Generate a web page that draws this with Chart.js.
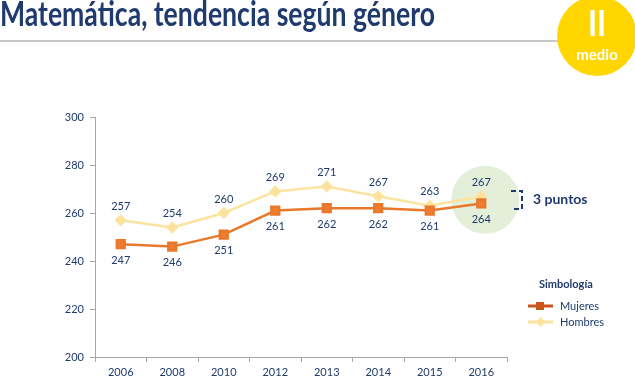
<!DOCTYPE html>
<html><head><meta charset="utf-8">
<script src="https://cdn.jsdelivr.net/npm/chart.js@4.4.1/dist/chart.umd.min.js"></script>
<style>
html,body{margin:0;padding:0;background:#fff;width:635px;height:384px;overflow:hidden;font-family:Lato,"Open Sans",sans-serif;}
#wrap{position:relative;width:635px;height:384px;}
#c{position:absolute;left:0;top:0;}
.abs{position:absolute;white-space:nowrap;}
</style></head><body>
<div id="wrap">
<canvas id="c" width="635" height="384"></canvas>
<div class="abs" id="title" style="left:0;top:-9px;font-size:35px;font-weight:bold;color:#1F3A6C;transform:scaleX(0.76);transform-origin:0 0;">Matemática, tendencia según género</div>
<div class="abs" style="left:0;top:40px;width:558px;height:2px;background:#C8C8C8;"></div>
<div class="abs" style="left:557px;top:-4px;width:80px;height:80px;border-radius:50%;background:#FFD600;"></div>
<div class="abs" style="left:557px;top:4px;width:80px;text-align:center;color:#fff;font-weight:bold;font-size:36px;line-height:36px;transform:scaleX(0.85);">II</div>
<div class="abs" style="left:557px;top:46px;width:80px;text-align:center;color:#fff;font-weight:bold;font-size:15px;line-height:16px;">medio</div>
<svg class="abs" style="left:505px;top:185px;" width="25" height="30"><path d="M6 6 H17 V24 H6" fill="none" stroke="#1F3A6C" stroke-width="2" stroke-dasharray="5,3"/></svg>
<div class="abs" style="left:533px;top:190px;font-size:14px;font-weight:bold;color:#1F3A6C;">3 puntos</div>
<div class="abs" style="left:539px;top:277px;font-size:11px;font-weight:bold;color:#1F3A6C;">Simbología</div>
<svg class="abs" style="left:526px;top:298px;" width="30" height="32">
<line x1="2" y1="8" x2="27" y2="8" stroke="#C8561A" stroke-width="3"/><rect x="10" y="4" width="8" height="8" fill="#C8561A"/>
<line x1="2" y1="24" x2="27" y2="24" stroke="#FCE3A0" stroke-width="3"/><path d="M14.5 19 L19.5 24 L14.5 29 L9.5 24 Z" fill="#FCE3A0"/>
</svg>
<div class="abs" style="left:560px;top:299px;font-size:11px;color:#1F3A6C;">Mujeres</div>
<div class="abs" style="left:560px;top:315px;font-size:11px;color:#1F3A6C;">Hombres</div>
</div>
<script>
const years = ['2006','2008','2010','2012','2013','2014','2015','2016'];
const mujeres = [247,246,251,261,262,262,261,264];
const hombres = [257,254,260,269,271,267,263,267];
const yTicks = [200,220,240,260,280,300];

const navy = '#1F3A6C';
const tickFont = {family:'Lato, "Open Sans", sans-serif', size:11};

const highlight = {
  id:'highlight',
  beforeDatasetsDraw(chart){
    const {ctx, scales:{x,y}} = chart;
    const i = years.length-1;
    const cx = x.getPixelForValue(i)+4;
    const cy = y.getPixelForValue((mujeres[i]+hombres[i])/2)+0;
    ctx.save();
    ctx.fillStyle='#E3EFD9';
    ctx.beginPath(); ctx.arc(cx,cy,34,0,Math.PI*2); ctx.fill();
    ctx.restore();
  },
  afterDatasetsDraw(chart){
    const {ctx} = chart;
    ctx.save();
    ctx.font = '11px Lato, "Open Sans", sans-serif';
    ctx.fillStyle = navy;
    ctx.textAlign='center'; ctx.textBaseline='middle';
    chart.getDatasetMeta(0).data.forEach((p,i)=>{ ctx.fillText(String(mujeres[i]), p.x, p.y+16); });
    chart.getDatasetMeta(1).data.forEach((p,i)=>{ ctx.fillText(String(hombres[i]), p.x, p.y-14); });
    ctx.restore();
  }
};

new Chart(document.getElementById('c'), {
  type:'line',
  data:{labels:years, datasets:[
    {label:'Mujeres', data:mujeres, borderColor:'#E8782C', backgroundColor:'#EE7D30', borderWidth:2.5,
     pointStyle:'rect', pointRadius:5.5, pointHoverRadius:5.5, tension:0},
    {label:'Hombres', data:hombres, borderColor:'#FCE3A0', backgroundColor:'#FCE19A', borderWidth:2.5,
     pointStyle:'rectRot', pointRadius:4.5, pointHoverRadius:4.5, tension:0}
  ]},
  options:{
    responsive:false, animation:false, devicePixelRatio:1,
    layout:{padding:{left:0,right:128,top:117,bottom:0}},
    plugins:{legend:{display:false}, tooltip:{enabled:false}},
    scales:{
      x:{offset:true,
        grid:{offset:true, drawOnChartArea:false, drawTicks:true, tickLength:5, color:'#A6A6A6'},
        border:{color:'#A6A6A6', width:1},
        ticks:{color:navy, font:tickFont, padding:4, maxRotation:0},
        afterFit(s){ s.height = 27; }
      },
      y:{min:200,max:300,
        afterBuildTicks(s){ s.ticks = yTicks.map(v=>({value:v})); },
        grid:{drawOnChartArea:false, drawTicks:true, tickLength:5, color:'#A6A6A6'},
        border:{color:'#A6A6A6', width:1},
        ticks:{color:navy, font:tickFont, padding:6},
        afterFit(s){ s.width = 95; }
      }
    }
  },
  plugins:[highlight]
});
</script>
</body></html>
